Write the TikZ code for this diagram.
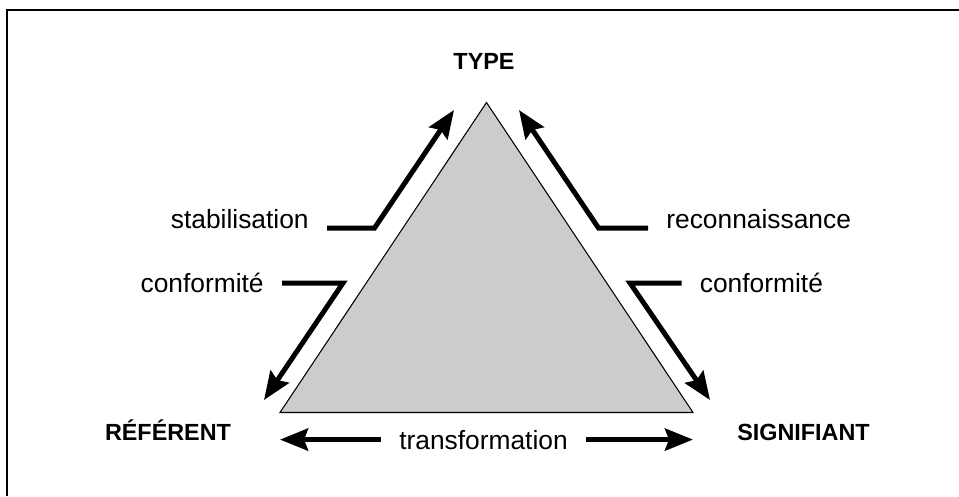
\documentclass[tikz,border=0pt]{standalone}
\usepackage{fontspec}
\setmainfont{Liberation Sans}
\usetikzlibrary{arrows.meta}

\begin{document}
\begin{tikzpicture}[
    pole/.style={font=\fontsize{13.3}{16}\selectfont\bfseries,inner sep=0pt},
    lbl/.style={font=\fontsize{15}{18}\selectfont,inner xsep=0.36cm,inner ysep=0pt},
    fleche/.style={line width=0.1cm,-{Stealth[length=5.6mm,width=4.4mm,inset=0.8mm]}}]
        \useasboundingbox (0,0) rectangle (19.18,9.92);
        \draw[line width=0.8pt] (0.14,0) -- (0.14,9.72) -- (19.18,9.72);
        \coordinate (A) at (9.73,7.87);
        \coordinate (L) at (5.6,1.67);
        \coordinate (R) at (13.86,1.67);
        \filldraw[fill=black!20,line width=0.6pt] (L) -- (A) -- (R) -- cycle;
        \node[pole,anchor=base] (type) at (9.68,8.53) {TYPE};
        \node[pole,anchor=base] (ref) at (3.36,1.11) {RÉFÉRENT};
        \node[pole,anchor=base] (sig) at (16.07,1.11) {SIGNIFIANT};
        \node[lbl,anchor=base east] (stab) at (6.54,5.36) {stabilisation};
        \node[lbl,anchor=base west] (reco) at (12.96,5.36) {reconnaissance};
        \node[lbl,anchor=east] (confg) at (5.64,4.26) {conformité};
        \node[lbl,anchor=west] (confd) at (13.63,4.26) {conformité};
        \node[lbl,anchor=base] (trans) at (9.67,0.94) {transformation};
        \coordinate (b1) at (7.49,5.36);
        \coordinate (t1) at (9.08,7.72);
        \coordinate (b2) at (11.97,5.36);
        \coordinate (t2) at (10.38,7.72);
        \coordinate (b3) at (6.86,4.26);
        \coordinate (t3) at (5.28,1.92);
        \coordinate (b4) at (12.6,4.26);
        \coordinate (t4) at (14.2,1.92);
        \draw[fleche] (stab.base east) -- (b1) -- (t1);
        \draw[fleche] (reco.base west) -- (b2) -- (t2);
        \draw[fleche] (confg.east) -- (b3) -- (t3);
        \draw[fleche] (confd.west) -- (b4) -- (t4);
        \draw[fleche] (trans.west) -- (trans.west -| L);
        \draw[fleche] (trans.east) -- (trans.east -| R);
    \end{tikzpicture}
\end{document}
